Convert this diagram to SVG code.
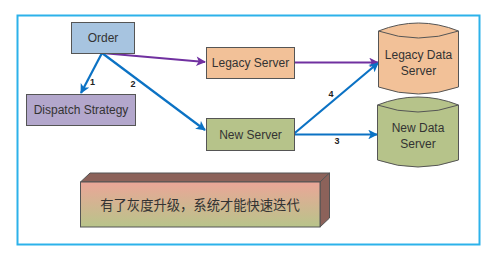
<svg xmlns="http://www.w3.org/2000/svg" width="493" height="259" viewBox="0 0 493 259">
<defs>
<style>
.box{stroke:#555;stroke-width:1}
.t{font-family:"Liberation Sans",Arial,sans-serif;font-size:12px;fill:#333;text-anchor:middle}
.n{font-family:"Liberation Sans",Arial,sans-serif;font-size:9px;font-weight:bold;fill:#222;text-anchor:middle}
.blue{stroke:#0b72c4;stroke-width:2.2;fill:none;marker-end:url(#ab)}
.purple{stroke:#7030a0;stroke-width:2.2;fill:none;marker-end:url(#ap)}
</style>
<marker id="ab" viewBox="0 0 10 10" refX="9" refY="5" markerWidth="5" markerHeight="4.4" orient="auto" markerUnits="strokeWidth"><path d="M0,0 L10,5 L0,10 L2.5,5 Z" fill="#0b72c4"/></marker>
<marker id="ap" viewBox="0 0 10 10" refX="9" refY="5" markerWidth="5" markerHeight="4.4" orient="auto" markerUnits="strokeWidth"><path d="M0,0 L10,5 L0,10 L2.5,5 Z" fill="#7030a0"/></marker>
<linearGradient id="g" x1="0" y1="0" x2="0" y2="1"><stop offset="0" stop-color="#eba698"/><stop offset="1" stop-color="#b8c48a"/></linearGradient>
</defs>
<rect x="17.5" y="15.5" width="462" height="229" fill="#fff" stroke="#2cb2ea" stroke-width="2"/>
<g id="connectors">
<path class="purple" d="M102,53 L205,62"/>
<path class="purple" d="M294,62.5 L378,62.5"/>
<path class="blue" d="M102,53 L81,93"/>
<path class="blue" d="M102,53 L205,130"/>
<path class="blue" d="M293,134.5 L378,63"/>
<path class="blue" d="M293,134.5 L377,134.5"/>
<text class="n" x="92.5" y="85">1</text>
<text class="n" x="133" y="87">2</text>
<text class="n" x="331" y="97">4</text>
<text class="n" x="337" y="144">3</text>
</g>
<g id="order"><rect class="box" x="71.5" y="22.5" width="63" height="31" fill="#a7c4e0"/><text class="t" x="103" y="42">Order</text></g>
<g id="dispatch"><rect class="box" x="26.5" y="94.5" width="109" height="31" fill="#b3a7cc"/><text class="t" x="81" y="114">Dispatch Strategy</text></g>
<g id="legacy-server"><rect class="box" x="206.5" y="47.5" width="88" height="31" fill="#f2c198"/><text class="t" x="250.5" y="67">Legacy Server</text></g>
<g id="new-server"><rect class="box" x="206.5" y="118.5" width="88" height="32" fill="#b6c38a"/><text class="t" x="250.5" y="139">New Server</text></g>
<g id="legacy-data"><path class="box" d="M378.5,31 Q418.5,15 458.5,31 L458.5,87 Q418.5,101 378.5,87 Z" fill="#f2c198"/><path d="M378.5,31 Q418.5,45 458.5,31" fill="none" stroke="#555"/><text class="t" x="418.5" y="59">Legacy Data</text><text class="t" x="418.5" y="75">Server</text></g>
<g id="new-data"><path class="box" d="M377.5,105 Q418,89 458.5,105 L458.5,160 Q418,174 377.5,160 Z" fill="#b6c38a"/><path d="M377.5,105 Q418,119 458.5,105" fill="none" stroke="#555"/><text class="t" x="418" y="132">New Data</text><text class="t" x="418" y="148">Server</text></g>
<g id="note">
<path d="M80.5,182 L90,173 L329.5,173 L320,182 Z" fill="#8c625a" stroke="#555" stroke-width="1"/>
<path d="M320,182 L329.5,173 L329.5,218 L320,227 Z" fill="#8c625a" stroke="#555" stroke-width="1"/>
<rect x="80.5" y="182" width="239.5" height="45" fill="url(#g)" stroke="#555" stroke-width="1"/>
<text x="200" y="209.5" font-family="'Noto Sans CJK SC',sans-serif" font-size="13.3" fill="#333" text-anchor="middle">有了灰度升级，系统才能快速迭代</text>
</g>
</svg>
